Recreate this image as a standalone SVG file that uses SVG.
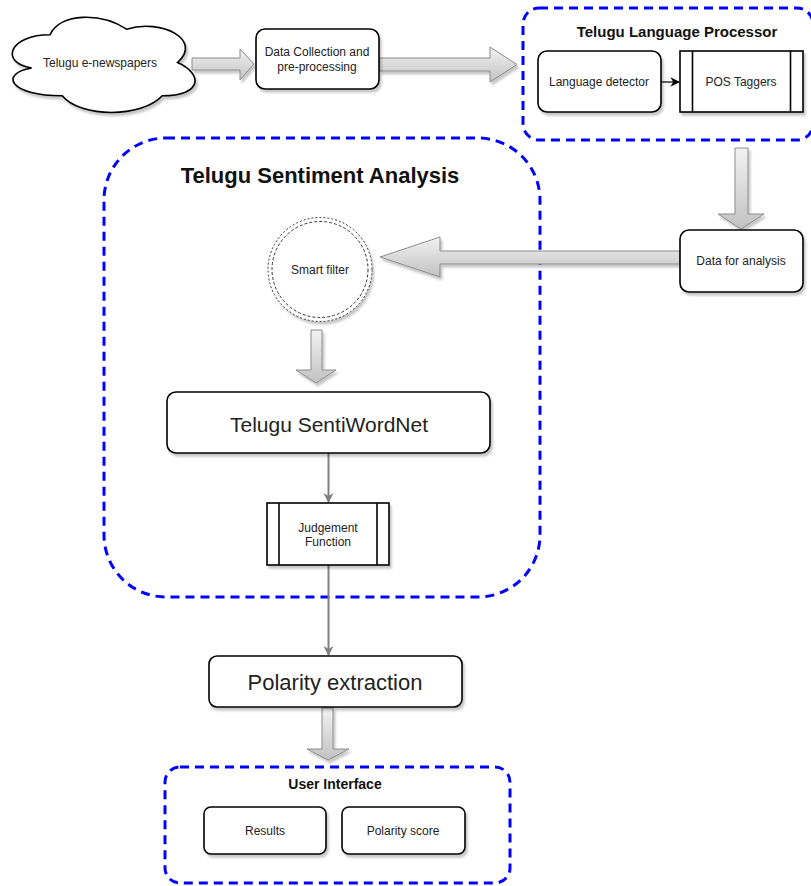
<svg xmlns="http://www.w3.org/2000/svg" width="811" height="886" viewBox="0 0 811 886">
<style>
  .box{fill:#fff;stroke:#000;stroke-width:1.6}
  .t{font-family:"Liberation Sans",Arial,sans-serif;font-size:12px;fill:#222;text-anchor:middle;dominant-baseline:central}
  .tb{font-family:"Liberation Sans",Arial,sans-serif;font-size:14px;font-weight:bold;fill:#111;text-anchor:middle;dominant-baseline:central}
  .big{font-family:"Liberation Sans",Arial,sans-serif;font-size:21px;fill:#222;text-anchor:middle;dominant-baseline:central}
  .cont{fill:none;stroke:#0000ff;stroke-width:3;stroke-dasharray:9 6}
  .flex{fill:url(#g);stroke:#8c8c8c;stroke-width:1}
  .line{stroke:#808080;stroke-width:2;fill:none}
</style>
<defs>
  <linearGradient id="g" x1="0" y1="0" x2="0" y2="1">
    <stop offset="0" stop-color="#f2f2f2"/>
    <stop offset="1" stop-color="#c2c2c2"/>
  </linearGradient>
  <filter id="sh" x="-10%" y="-10%" width="125%" height="130%">
    <feDropShadow dx="2" dy="3" stdDeviation="1.2" flood-color="#000" flood-opacity="0.22"/>
  </filter>
  <marker id="ag" viewBox="0 0 10 10" refX="9" refY="5" markerWidth="5" markerHeight="5" orient="auto" markerUnits="strokeWidth">
    <path d="M0,0 L10,5 L0,10 L3,5 Z" fill="#808080"/>
  </marker>
  <marker id="ab" viewBox="0 0 10 10" refX="9" refY="5" markerWidth="8" markerHeight="8" orient="auto" markerUnits="strokeWidth">
    <path d="M0,0 L10,5 L0,10 L3,5 Z" fill="#000"/>
  </marker>
</defs>

<!-- containers -->
<g id="telugu-language-processor">
  <rect class="cont" x="523" y="8" width="290" height="132" rx="16"/>
  <text class="tb" x="677" y="31" style="font-size:15px">Telugu Language Processor</text>
</g>
<g id="telugu-sentiment-analysis">
  <rect class="cont" x="104" y="138" width="436" height="459" rx="62"/>
  <text class="tb" x="320" y="175" style="font-size:22px">Telugu Sentiment Analysis</text>
</g>
<g id="user-interface">
  <rect class="cont" x="165" y="767" width="345" height="116" rx="15"/>
  <text class="tb" x="335" y="784">User Interface</text>
</g>

<!-- connectors -->
<g id="connectors">
  <g filter="url(#sh)">
    <polygon class="flex" points="192,58 240,58 240,49 254,64 240,80 240,70 192,70"/>
    <polygon class="flex" points="379,58 490,58 490,47 517,64.5 490,82 490,71 379,71"/>
    <polygon class="flex" points="735,148 748,148 748,214 764,214 741,229 718,214 735,214"/>
    <polygon class="flex" points="680,251 440,251 440,237 380,257 440,277 440,264 680,264"/>
    <polygon class="flex" points="311,330 322,330 322,370 336,370 316,383 296,370 311,370"/>
    <polygon class="flex" points="322,708 333,708 333,749 349,749 328,760 307,749 322,749"/>
  </g>
  <line x1="661" y1="82" x2="679" y2="82" stroke="#000" stroke-width="1.2" marker-end="url(#ab)"/>
  <line class="line" x1="328.5" y1="453" x2="328.5" y2="502" marker-end="url(#ag)"/>
  <line class="line" x1="328.5" y1="565" x2="328.5" y2="655" marker-end="url(#ag)"/>
</g>

<!-- nodes -->
<g id="telugu-e-newspapers">
  <path class="box" filter="url(#sh)" d="M50,34.75 C9.2,34.75 -1,62.5 31.64,68.05 C-1,73.6 9.2,95.8 62.24,95.8 C80.6,118 141.8,118 162.2,95.8 C203,95.8 203,73.6 177.5,62.5 C203,40.3 162.2,18.1 126.5,29.2 C101,12.55 60.2,12.55 50,34.75 Z"/>
  <text class="t" x="100" y="63">Telugu e-newspapers</text>
</g>
<g id="data-collection">
  <rect class="box" filter="url(#sh)" x="256" y="29" width="123" height="60" rx="9"/>
  <text class="t" x="317" y="52">Data Collection and</text>
  <text class="t" x="317" y="67">pre-processing</text>
</g>
<g id="language-detector">
  <rect class="box" filter="url(#sh)" x="538" y="51" width="123" height="61" rx="9"/>
  <text class="t" x="599" y="82">Language detector</text>
</g>
<g id="pos-taggers">
  <rect class="box" filter="url(#sh)" x="680" y="51" width="123" height="61"/>
  <line x1="692.5" y1="51" x2="692.5" y2="112" stroke="#000" stroke-width="1.6"/>
  <line x1="790.5" y1="51" x2="790.5" y2="112" stroke="#000" stroke-width="1.6"/>
  <text class="t" x="741" y="82">POS Taggers</text>
</g>
<g id="data-for-analysis">
  <rect class="box" filter="url(#sh)" x="680" y="230" width="123" height="62" rx="9"/>
  <text class="t" x="741" y="261">Data for analysis</text>
</g>
<g id="smart-filter">
  <circle cx="320" cy="269.5" r="52" fill="#fff" stroke="#333" stroke-width="1" stroke-dasharray="2 2" filter="url(#sh)"/>
  <circle cx="320" cy="269.5" r="48" fill="none" stroke="#333" stroke-width="1" stroke-dasharray="3 2"/>
  <text class="t" x="320" y="270">Smart filter</text>
</g>
<g id="telugu-sentiwordnet">
  <rect class="box" filter="url(#sh)" x="167" y="392" width="323" height="61" rx="9"/>
  <text class="big" x="329" y="424">Telugu SentiWordNet</text>
</g>
<g id="judgement-function">
  <rect class="box" filter="url(#sh)" x="267" y="503" width="122" height="62"/>
  <line x1="279" y1="503" x2="279" y2="565" stroke="#000" stroke-width="1.6"/>
  <line x1="377" y1="503" x2="377" y2="565" stroke="#000" stroke-width="1.6"/>
  <text class="t" x="328" y="528">Judgement</text>
  <text class="t" x="328" y="542">Function</text>
</g>
<g id="polarity-extraction">
  <rect class="box" filter="url(#sh)" x="209" y="656" width="253" height="51" rx="8"/>
  <text class="big" x="335" y="682" style="font-size:22px">Polarity extraction</text>
</g>
<g id="results">
  <rect class="box" filter="url(#sh)" x="204" y="807" width="122" height="47" rx="7"/>
  <text class="t" x="265" y="831">Results</text>
</g>
<g id="polarity-score">
  <rect class="box" filter="url(#sh)" x="342" y="807" width="123" height="47" rx="7"/>
  <text class="t" x="403" y="831">Polarity score</text>
</g>
</svg>
